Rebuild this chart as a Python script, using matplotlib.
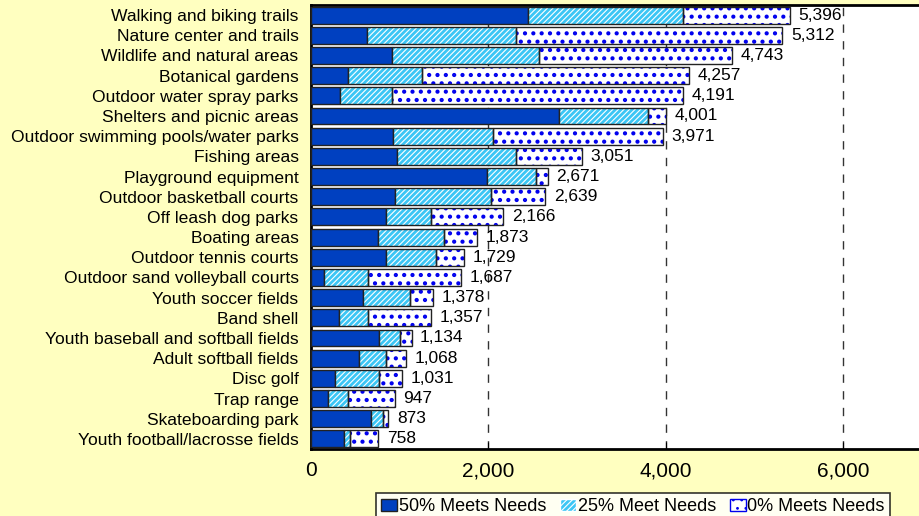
import numpy as np
import matplotlib.pyplot as plt
from matplotlib.patches import Patch

plt.rcParams['font.family'] = ['Liberation Sans', 'DejaVu Sans']
plt.rcParams['hatch.linewidth'] = 0.8

# facility categories, top to bottom
categories = ["Walking and biking trails", "Nature center and trails",
              "Wildlife and natural areas", "Botanical gardens",
              "Outdoor water spray parks", "Shelters and picnic areas",
              "Outdoor swimming pools/water parks", "Fishing areas",
              "Playground equipment", "Outdoor basketball courts",
              "Off leash dog parks", "Boating areas", "Outdoor tennis courts",
              "Outdoor sand volleyball courts", "Youth soccer fields",
              "Band shell", "Youth baseball and softball fields",
              "Adult softball fields", "Disc golf", "Trap range",
              "Skateboarding park", "Youth football/lacrosse fields"]

meets50 = [2449, 627, 913, 413, 330, 2798, 928, 969, 1979, 946, 849,
           751, 841, 143, 582, 319, 766, 537, 267, 188, 676, 368]
meet25 = [1739, 1683, 1656, 834, 579, 1003, 1127, 1337, 553, 1078, 499,
          748, 564, 499, 530, 319, 233, 304, 499, 225, 139, 71]
meets0 = [1208, 3002, 2174, 3010, 3282, 200, 1916, 745, 139, 615, 818,
          374, 324, 1045, 266, 719, 135, 227, 265, 534, 58, 319]

series_names = ["50% Meets Needs", "25% Meet Needs", "0% Meets Needs"]

dark = '#0040C0'
light = '#3CC6F5'
bg = '#FFFFC0'

fig = plt.figure(figsize=(9.19, 5.16), dpi=100, facecolor=bg)
ax = fig.add_axes([311/919, 1-449/516, 1-311/919, 444/516])
ax.set_facecolor('white')

y = np.arange(len(categories))
h = 0.84
a = np.array(meets50)
b = np.array(meet25)
c = np.array(meets0)

ax.barh(y, a, height=h, color=dark, edgecolor='#222222', linewidth=1, zorder=3)
ax.barh(y, b, left=a, height=h, color=light, edgecolor='white', hatch='//////',
        linewidth=0, zorder=3)
ax.barh(y, b, left=a, height=h, color='none', edgecolor='#222222', linewidth=1, zorder=4)
with plt.rc_context({'hatch.linewidth': 1.8}):
    ax.barh(y, c, left=a + b, height=h, color='white', edgecolor='#0000EE', hatch='..',
            linewidth=0, zorder=3)
ax.barh(y, c, left=a + b, height=h, color='none', edgecolor='#222222', linewidth=1, zorder=4)

totals = a + b + c
for yi, t in zip(y, totals):
    ax.text(t + 95, yi, f"{t:,}", va='center', ha='left', fontsize=12.5, zorder=5)

ax.set_ylim(len(categories) - 0.5, -0.5)
ax.set_xlim(0, 6851)
ax.set_yticks(y)
ax.set_yticklabels(categories, fontsize=12.6)
ax.tick_params(axis='y', length=0, pad=9)
ax.set_xticks([0, 2000, 4000, 6000])
ax.set_xticklabels(["0", "2,000", "4,000", "6,000"], fontsize=15)
ax.tick_params(axis='x', direction='in', length=5, pad=9)

for xv in [2000, 4000, 6000]:
    ax.axvline(xv, color='#333333', linestyle=(0, (6, 6)), linewidth=1, zorder=1)

for s in ['left', 'bottom', 'top']:
    ax.spines[s].set_linewidth(2)
    ax.spines[s].set_color('black')
ax.spines['right'].set_visible(False)

handles = [Patch(facecolor=dark, edgecolor='#222222'),
           Patch(facecolor=light, edgecolor='white', hatch='//////'),
           Patch(facecolor='white', edgecolor='#0000EE', hatch='..')]
leg = fig.legend(handles, series_names, loc='upper left',
                 bbox_to_anchor=(376/919, 1-493/516), ncol=3, fontsize=13,
                 frameon=True, fancybox=False, edgecolor='black',
                 handlelength=0.85, handleheight=0.65, handletextpad=0.1,
                 columnspacing=0.8, borderpad=0.3, borderaxespad=0)
leg.get_frame().set_linewidth(1.2)

fig.savefig('out.png', dpi=100, facecolor=bg)
